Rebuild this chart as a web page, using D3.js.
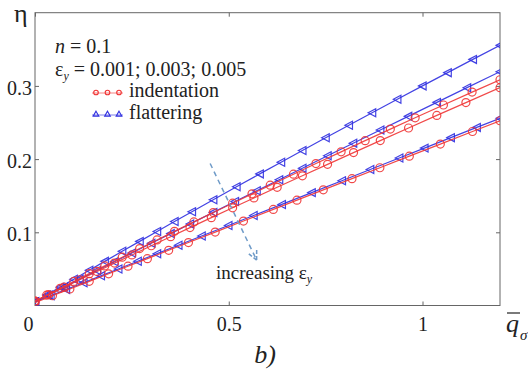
<!DOCTYPE html>
<html>
<head>
<meta charset="utf-8">
<script src="https://cdn.jsdelivr.net/npm/d3@7"></script>
<style>
  html, body { margin: 0; padding: 0; background: #fff; }
  svg { display: block; }
  svg text { font-family: "Liberation Serif", "Times New Roman", Tinos, "DejaVu Serif", "Noto Serif", serif !important; }
</style>
</head>
<body>
<svg id="chart" width="528" height="371"></svg>
<script>
// ---------------- data ----------------
const xTicks = [0, 0.5, 1];
const xTickLabels = ["0", "0.5", "1"];
const yTicks = [0.1, 0.2, 0.3];
const yTickLabels = ["0.1", "0.2", "0.3"];

// flattering (blue, triangles), eps_y = 0.001, 0.003, 0.005
const flat1X = [0, 0.03, 0.065, 0.10, 0.14, 0.18, 0.225, 0.27, 0.315, 0.36, 0.405, 0.46, 0.52, 0.58, 0.635, 0.69, 0.75, 0.81, 0.87, 0.935, 1.0, 1.065, 1.13, 1.2];
const flat1Y = [0.005, 0.0143, 0.0251, 0.0359, 0.0481, 0.0603, 0.0740, 0.0876, 0.1012, 0.1147, 0.1281, 0.1444, 0.1621, 0.1798, 0.1958, 0.2118, 0.2291, 0.2463, 0.2634, 0.2817, 0.300, 0.3181, 0.3362, 0.3554];

const flat2X = [0, 0.035, 0.075, 0.115, 0.16, 0.205, 0.25, 0.3, 0.35, 0.4, 0.46, 0.516, 0.572, 0.63, 0.69, 0.755, 0.821, 0.891, 0.963, 1.037, 1.115, 1.2];
const flat2Y = [0.005, 0.0144, 0.0251, 0.0357, 0.0478, 0.0597, 0.0717, 0.0850, 0.0982, 0.1114, 0.1272, 0.1420, 0.1567, 0.1719, 0.1875, 0.2045, 0.2217, 0.2398, 0.2584, 0.2775, 0.2976, 0.3194];

const flat3X = [0, 0.04, 0.08, 0.125, 0.17, 0.215, 0.265, 0.315, 0.37, 0.43, 0.499, 0.564, 0.637, 0.714, 0.792, 0.865, 0.94, 1.005, 1.073, 1.14, 1.2];
const flat3Y = [0.005, 0.0134, 0.0217, 0.0311, 0.0405, 0.0499, 0.0604, 0.0708, 0.0823, 0.0949, 0.1093, 0.1229, 0.1381, 0.1542, 0.1705, 0.1858, 0.2015, 0.2150, 0.2293, 0.2433, 0.2558];

// indentation (red, circles), eps_y = 0.001, 0.003, 0.005
const ind1X = [0, 0.03, 0.065, 0.1, 0.14, 0.18, 0.225, 0.27, 0.315, 0.36, 0.41, 0.46, 0.51, 0.56, 0.607, 0.667, 0.725, 0.79, 0.852, 0.917, 0.981, 1.054, 1.128, 1.2];
const ind1Y = [0.006, 0.0141, 0.0235, 0.0329, 0.0435, 0.0541, 0.0660, 0.0778, 0.0896, 0.1013, 0.1142, 0.1270, 0.1398, 0.1525, 0.1644, 0.1794, 0.1939, 0.2099, 0.2252, 0.2410, 0.2564, 0.2739, 0.2915, 0.3084];

const ind2X = [0, 0.035, 0.075, 0.115, 0.16, 0.205, 0.25, 0.3, 0.35, 0.4, 0.455, 0.51, 0.565, 0.625, 0.69, 0.755, 0.822, 0.891, 0.964, 1.037, 1.112, 1.2];
const ind2Y = [0.006, 0.0149, 0.0251, 0.0352, 0.0465, 0.0579, 0.0691, 0.0816, 0.0940, 0.1064, 0.1200, 0.1335, 0.1469, 0.1615, 0.1772, 0.1928, 0.2089, 0.2253, 0.2425, 0.2597, 0.2772, 0.2976];

const ind3X = [0, 0.045, 0.09, 0.14, 0.19, 0.24, 0.29, 0.345, 0.396, 0.465, 0.538, 0.615, 0.676, 0.744, 0.818, 0.89, 0.966, 1.046, 1.129, 1.2];
const ind3Y = [0.004, 0.0133, 0.0226, 0.0330, 0.0433, 0.0537, 0.0640, 0.0754, 0.0860, 0.1003, 0.1154, 0.1313, 0.1439, 0.1580, 0.1733, 0.1882, 0.2040, 0.2205, 0.2377, 0.2524];

// annotation arrow (data coords): start and tip
const arrowX = [0.452, 0.572];
const arrowY = [0.194, 0.062];

// ---------------- layout ----------------
const svg = d3.select("#chart");
const L = 35, R = 500, T = 12.7, B = 305.5;
const x = d3.scaleLinear().domain([0, 1.2]).range([L, R]);
const y = d3.scaleLinear().domain([0, 0.4]).range([B, T]);

const BLUE = "#2f2fe0", RED = "#f03535", AXIS = "#666", TXT = "#222";

svg.append("defs").append("clipPath").attr("id", "plotclip")
  .append("rect").attr("x", L).attr("y", T).attr("width", R - L).attr("height", B - T);

// box
svg.append("rect").attr("x", L).attr("y", T).attr("width", R - L).attr("height", B - T)
  .attr("fill", "none").attr("stroke", AXIS).attr("stroke-width", 1);

function styleAxis(g) {
  g.select(".domain").remove();
  g.attr("font-family", null);
  g.selectAll(".tick line").attr("stroke", AXIS).attr("stroke-width", 1);
  g.selectAll(".tick text").attr("fill", TXT).attr("font-size", 20);
}

const gx = svg.append("g").attr("transform", `translate(0,${B})`)
  .call(d3.axisBottom(x).tickValues(xTicks).tickFormat((d, i) => xTickLabels[i])
    .tickSizeInner(-4).tickSizeOuter(0).tickPadding(11))
  .call(styleAxis);
gx.selectAll(".tick text").filter((d, i) => i === 0).attr("dx", -7);

svg.append("g").attr("transform", `translate(0,${T})`)
  .call(d3.axisTop(x).tickValues(xTicks).tickFormat("").tickSizeInner(-4).tickSizeOuter(0))
  .call(styleAxis);

svg.append("g").attr("transform", `translate(${L},0)`)
  .call(d3.axisLeft(y).tickValues(yTicks).tickFormat((d, i) => yTickLabels[i])
    .tickSizeInner(-4).tickSizeOuter(0).tickPadding(3))
  .call(styleAxis)
  .selectAll(".tick text").attr("dy", "0.42em");

svg.append("g").attr("transform", `translate(${R},0)`)
  .call(d3.axisRight(y).tickValues(yTicks).tickFormat("").tickSizeInner(-4).tickSizeOuter(0))
  .call(styleAxis);

// ---------------- series ----------------
const series = [
  { xs: flat1X, ys: flat1Y, color: BLUE, mk: "tri" },
  { xs: flat2X, ys: flat2Y, color: BLUE, mk: "tri" },
  { xs: flat3X, ys: flat3Y, color: BLUE, mk: "tri" },
  { xs: ind1X, ys: ind1Y, color: RED, mk: "circ" },
  { xs: ind2X, ys: ind2Y, color: RED, mk: "circ" },
  { xs: ind3X, ys: ind3Y, color: RED, mk: "circ" }
];

const plot = svg.append("g").attr("clip-path", "url(#plotclip)");
const line = d3.line().x(d => x(d[0])).y(d => y(d[1]));
const triLeft = d3.symbol().type({
  draw(ctx, size) {
    const r = Math.sqrt(size) / 2;
    ctx.moveTo(-r, 0); ctx.lineTo(r * 0.9, -r); ctx.lineTo(r * 0.9, r); ctx.closePath();
  }
}).size(64);

series.forEach(s => {
  const pts = s.xs.map((v, i) => [v, s.ys[i]]);
  plot.append("path").datum(pts).attr("d", line)
    .attr("fill", "none").attr("stroke", s.color).attr("stroke-width", 1.2).attr("opacity", 0.9);
  const g = plot.append("g");
  if (s.mk === "circ") {
    g.selectAll("circle").data(pts).join("circle")
      .attr("cx", d => x(d[0])).attr("cy", d => y(d[1])).attr("r", 4)
      .attr("fill", "none").attr("stroke", s.color).attr("stroke-width", 1.2).attr("opacity", 0.9);
  } else {
    g.selectAll("path").data(pts).join("path")
      .attr("d", triLeft)
      .attr("transform", d => `translate(${x(d[0])},${y(d[1])})`)
      .attr("fill", "none").attr("stroke", s.color).attr("stroke-width", 1.2).attr("opacity", 0.9);
  }
});

// ---------------- annotation arrow ----------------
const ARW = "#6f9bc8";
const ax0 = x(arrowX[0]), ay0 = y(arrowY[0]), ax1 = x(arrowX[1]), ay1 = y(arrowY[1]);
svg.append("line").attr("x1", ax0).attr("y1", ay0).attr("x2", ax1).attr("y2", ay1)
  .attr("stroke", ARW).attr("stroke-width", 1.5).attr("stroke-dasharray", "5,4");
const ang = Math.atan2(ay1 - ay0, ax1 - ax0);
[-0.45, 0.45].forEach(da => {
  svg.append("line").attr("x1", ax1).attr("y1", ay1)
    .attr("x2", ax1 - 10 * Math.cos(ang + da)).attr("y2", ay1 - 10 * Math.sin(ang + da))
    .attr("stroke", ARW).attr("stroke-width", 1.5).attr("stroke-dasharray", "4,2");
});

const inc = svg.append("text").attr("x", 216).attr("y", 279).attr("font-size", 19).attr("fill", TXT);
inc.append("tspan").text("increasing ε");
inc.append("tspan").attr("font-size", 12).attr("font-style", "italic").attr("dy", 4).text("y");

// ---------------- legend / params ----------------
const t1 = svg.append("text").attr("x", 55).attr("y", 53).attr("font-size", 20).attr("fill", TXT);
t1.append("tspan").attr("font-style", "italic").text("n");
t1.append("tspan").text(" = 0.1");

const t2 = svg.append("text").attr("x", 55).attr("y", 76).attr("font-size", 20).attr("fill", TXT);
t2.append("tspan").text("ε");
t2.append("tspan").attr("font-size", 12).attr("font-style", "italic").attr("dy", 4).text("y");
t2.append("tspan").attr("dy", -4).text(" = 0.001; 0.003; 0.005");

const legendItems = [
  { label: "indentation", color: RED, mk: "circ", yy: 93 },
  { label: "flattering", color: BLUE, mk: "tri", yy: 115 }
];
const triUp = d3.symbol().type(d3.symbolTriangle).size(14);
legendItems.forEach(it => {
  svg.append("line").attr("x1", 92).attr("x2", 123).attr("y1", it.yy).attr("y2", it.yy)
    .attr("stroke", it.color).attr("stroke-width", 1).attr("opacity", 0.6);
  [96, 107.5, 119].forEach(cx => {
    if (it.mk === "circ") {
      svg.append("circle").attr("cx", cx).attr("cy", it.yy - 0.5).attr("r", 2.3)
        .attr("fill", "none").attr("stroke", it.color).attr("stroke-width", 1.1);
    } else {
      svg.append("path").attr("d", triUp).attr("transform", `translate(${cx},${it.yy - 0.5})`)
        .attr("fill", "none").attr("stroke", it.color).attr("stroke-width", 1.1);
    }
  });
  svg.append("text").attr("x", 129).attr("y", it.yy + 4).attr("font-size", 20).attr("fill", TXT).text(it.label);
});

// ---------------- axis titles ----------------
svg.append("text").attr("x", 14).attr("y", 22).attr("font-size", 26).attr("fill", TXT).text("η");

svg.append("text").attr("x", 506).attr("y", 332).attr("font-size", 26).attr("font-style", "italic")
  .attr("fill", TXT).text("q");
svg.append("line").attr("x1", 507).attr("x2", 520).attr("y1", 313).attr("y2", 313)
  .attr("stroke", TXT).attr("stroke-width", 1.2);
svg.append("text").attr("x", 520).attr("y", 340).attr("font-size", 15).attr("font-style", "italic")
  .attr("fill", TXT).text("σ");

svg.append("text").attr("x", 265).attr("y", 363).attr("font-size", 26).attr("font-style", "italic")
  .attr("text-anchor", "middle").attr("fill", TXT).text("b)");
</script>
</body>
</html>
